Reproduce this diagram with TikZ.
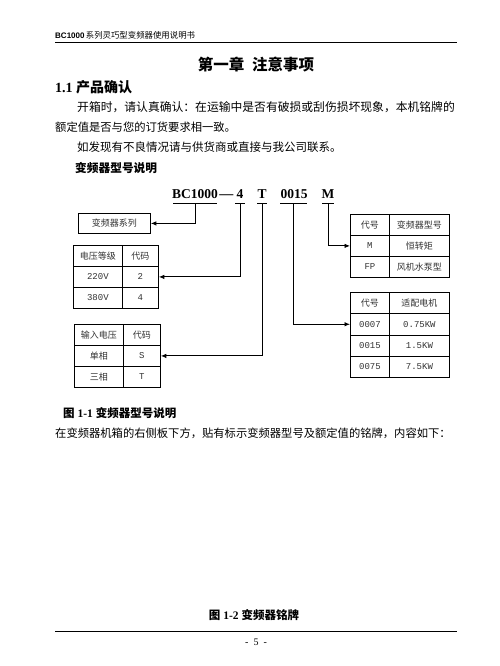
\documentclass[tikz,border=0pt]{standalone}
\usepackage{fontspec}
\setmainfont{Liberation Serif}
\newfontfamily\cjk{Noto Sans CJK SC}
\newfontfamily\mono{Liberation Mono}
\newfontfamily\lsans{Liberation Sans}
\newcommand\myfs[1]{\fontsize{#1}{#1}\selectfont}
\usetikzlibrary{arrows.meta}
\begin{document}
\begin{tikzpicture}[x=1pt,y=-1pt,
  txt/.style={inner sep=0pt, anchor=west},
  cell/.style={draw, line width=0.8pt, inner sep=0pt, anchor=north west, font=\cjk\myfs{9}, text=black!80},
  cA/.style={cell, minimum width=49pt, minimum height=21pt},
  cB/.style={cell, minimum width=36pt, minimum height=21pt},
  cC/.style={cell, minimum width=37pt, minimum height=21pt},
  rA/.style={cell, minimum width=39pt, minimum height=21pt},
  rB/.style={cell, minimum width=60pt, minimum height=21pt},
  sA/.style={cell, minimum width=39pt, minimum height=21.25pt},
  sB/.style={cell, minimum width=60pt, minimum height=21.25pt},
  arr/.style={line width=0.9pt, -{Latex[length=5.5pt,width=4.5pt]}},
  uline/.style={line width=0.9pt},
  rule/.style={line width=0.9pt}]
\useasboundingbox[fill=white] (0,0) rectangle (500,666);

% header
\node[txt] (hdr) at (55,35) {\lsans\bfseries\myfs{8}BC1000\,\cjk\mdseries\myfs{8.4}系列灵巧型变频器使用说明书};
\draw[rule] (55,42) -- (457,42);

% title and section
\node (title) at (256,65) {\cjk\bfseries\myfs{15.5}第一章\hspace{0.5em}注意事项};
\node[txt] (sec) at (55,87) {\bfseries\myfs{14}1.1\ \cjk 产品确认};

% paragraph
\node[txt] (p1) at (77,107) {\cjk\myfs{11.8}开箱时，请认真确认：在运输中是否有破损或刮伤损坏现象，本机铭牌的};
\node[txt] (p2) at (55,127) {\cjk\myfs{11.3}额定值是否与您的订货要求相一致。};
\node[txt] (p3) at (77,147) {\cjk\myfs{11.5}如发现有不良情况请与供货商或直接与我公司联系。};
\node[txt] (h2) at (75,168) {\cjk\bfseries\myfs{11.7}变频器型号说明};

% model string
\node[txt] (mbc) at (172,194) {\bfseries\myfs{13.5}BC1000};
\node[inner sep=0pt, anchor=base west] (mdash) at ([xshift=1pt]mbc.base east) {\bfseries\myfs{14}—};
\node (m4) at (240,194) {\bfseries\myfs{13.5}4};
\node (mT) at (262,194) {\bfseries\myfs{13.5}T};
\node (m0015) at (294,194) {\bfseries\myfs{13.5}0015};
\node (mM) at (328,194) {\bfseries\myfs{13.5}M};

\draw[uline] (173,203) -- (217,203);
\draw[uline] (235,203) -- (245,203);
\draw[uline] (257,203) -- (267,203);
\draw[uline] (280,203) -- (307,203);
\draw[uline] (322,203) -- (334,203);
\coordinate (u1) at (195,203);
\coordinate (u2) at (240,203);
\coordinate (u3) at (262,203);
\coordinate (u4) at (293,203);
\coordinate (u5) at (328,203);

% series box
\node[cell, minimum width=72pt, minimum height=20pt] (series) at (78,213) {变频器系列};

% voltage table
\node[cA] (va1) at (73,245) {电压等级};
\node[cB] (vb1) at (122,245) {代码};
\node[cA] (va2) at (73,266) {\mono 220V};
\node[cB] (vb2) at (122,266) {\mono 2};
\node[cA] (va3) at (73,287) {\mono 380V};
\node[cB] (vb3) at (122,287) {\mono 4};

% input voltage table
\node[cA] (ia1) at (74,324) {输入电压};
\node[cC] (ib1) at (123,324) {代码};
\node[cA] (ia2) at (74,345) {单相};
\node[cC] (ib2) at (123,345) {\mono S};
\node[cA] (ia3) at (74,366) {三相};
\node[cC] (ib3) at (123,366) {\mono T};

% type table
\node[rA] (ma1) at (350,214) {代号};
\node[rB] (mb1) at (389,214) {变频器型号};
\node[rA] (ma2) at (350,235) {\mono M};
\node[rB] (mb2) at (389,235) {恒转矩};
\node[rA] (ma3) at (350,256) {\mono FP};
\node[rB] (mb3) at (389,256) {风机水泵型};

% motor table
\node[sA] (ta1) at (350,292) {代号};
\node[sB] (tb1) at (389,292) {适配电机};
\node[sA] (ta2) at (350,313.25) {\mono 0007};
\node[sB] (tb2) at (389,313.25) {\mono 0.75KW};
\node[sA] (ta3) at (350,334.5) {\mono 0015};
\node[sB] (tb3) at (389,334.5) {\mono 1.5KW};
\node[sA] (ta4) at (350,355.75) {\mono 0075};
\node[sB] (tb4) at (389,355.75) {\mono 7.5KW};

% connectors
\draw[arr] (u1) |- (series.east);
\draw[arr] (u2) |- (vb2.east);
\draw[arr] (u3) |- (ib2.east);
\draw[arr] (u4) |- (ta2.west);
\draw[arr] (u5) |- (ma2.west);

% captions and text
\node[txt] (cap1) at (63,413) {\bfseries\myfs{11.5}\cjk 图\rmfamily\ 1-1\ \cjk 变频器型号说明};
\node[txt] (p4) at (55,433) {\cjk\myfs{11.3}在变频器机箱的右侧板下方，贴有标示变频器型号及额定值的铭牌，内容如下：};
\node (cap2) at (254,615) {\bfseries\myfs{11.5}\cjk 图\rmfamily\ 1-2\ \cjk 变频器铭牌};

% footer
\draw[rule] (55,631) -- (457,631);
\node (pg) at (256,642) {\myfs{10}-\ \ 5\ \ -};
\end{tikzpicture}
\end{document}
